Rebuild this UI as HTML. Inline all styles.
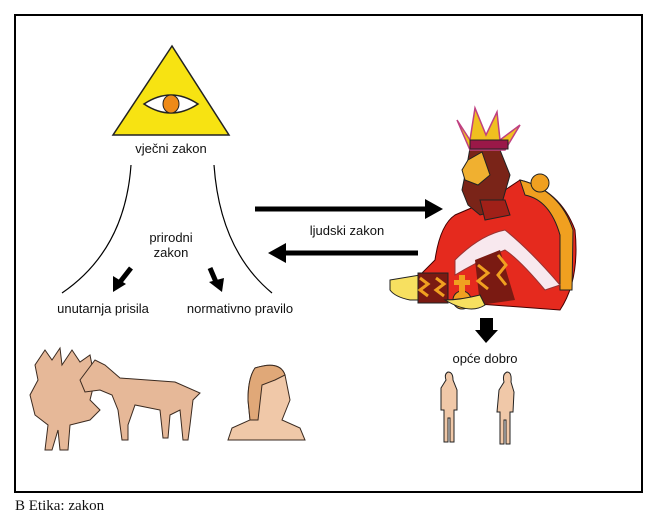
<!DOCTYPE html>
<html><head><meta charset="utf-8"><style>
html,body{margin:0;padding:0;background:#fff;}
svg{display:block}
text{font-family:"Liberation Sans",sans-serif;font-size:13px;fill:#111}
</style></head><body>
<svg width="651" height="519" viewBox="0 0 651 519" xmlns="http://www.w3.org/2000/svg">
<rect x="15" y="15" width="627" height="477" fill="#fff" stroke="#000" stroke-width="2"/>
<!-- triangle -->
<polygon points="172,46 113,135 229,135" fill="#f7e312" stroke="#222" stroke-width="1.5"/>
<path d="M144,104 Q171,86 198,104 Q171,122 144,104Z" fill="#fff" stroke="#222" stroke-width="1.5"/>
<ellipse cx="171" cy="104" rx="8" ry="9" fill="#ee8a18" stroke="#222"/>
<text x="171" y="153" text-anchor="middle">vječni zakon</text>
<path d="M131,165 Q125,250 62,293" fill="none" stroke="#000" stroke-width="1.2"/>
<path d="M214,165 Q220,250 272,293" fill="none" stroke="#000" stroke-width="1.2"/>
<text x="171" y="242" text-anchor="middle">prirodni</text>
<text x="171" y="257" text-anchor="middle">zakon</text>
<!-- small arrows -->
<line x1="131" y1="268" x2="120" y2="282" stroke="#000" stroke-width="5"/>
<polygon points="113,292 113,276 126,284" fill="#000"/>
<line x1="210" y1="268" x2="216" y2="282" stroke="#000" stroke-width="5"/>
<polygon points="222,292 209,282 224,278" fill="#000"/>
<text x="103" y="313" text-anchor="middle" font-size="14">unutarnja prisila</text>
<text x="240" y="313" text-anchor="middle" font-size="14">normativno pravilo</text>
<!-- big arrows -->
<line x1="255" y1="209" x2="428" y2="209" stroke="#000" stroke-width="5"/>
<polygon points="443,209 425,199 425,219" fill="#000"/>
<text x="347" y="235" text-anchor="middle" font-size="14">ljudski zakon</text>
<line x1="282" y1="253" x2="418" y2="253" stroke="#000" stroke-width="5"/>
<polygon points="268,253 286,243 286,263" fill="#000"/>
<!-- king -->
<path d="M455,215 Q440,225 435,260 L420,275 L425,300 L560,310 Q580,280 575,230 Q560,190 520,180 L490,200Z" fill="#e52a1e" stroke="#400" stroke-width="1"/>
<path d="M520,180 Q560,190 573,230 L572,290 L560,290 L560,235 Q550,200 525,195Z" fill="#f0a020" stroke="#222"/>
<circle cx="540" cy="183" r="9" fill="#f0a020" stroke="#222"/>
<path d="M455,260 Q480,235 505,230 Q530,250 560,285 L545,290 Q520,260 505,250 Q480,260 455,275Z" fill="#f8e8ee" stroke="#933"/>
<path d="M475,260 L500,250 L515,300 L480,305Z" fill="#7a1a12"/>
<path d="M478,265 l10,8 -10,8 10,8 M498,255 l8,10 -8,10 8,10" stroke="#f0a020" stroke-width="3" fill="none"/>
<path d="M390,280 L420,275 L445,283 L440,300 L410,300 Q395,297 390,290Z" fill="#f7e060" stroke="#222"/>
<rect x="418" y="273" width="30" height="30" fill="#7a1a12" stroke="#222"/>
<path d="M420,278 l8,6 -8,6 8,6 M436,278 l8,6 -8,6 8,6" stroke="#f0a020" stroke-width="3" fill="none"/>
<circle cx="462" cy="300" r="9" fill="#f0a020" stroke="#222"/>
<rect x="459" y="275" width="6" height="18" fill="#f0a020"/><rect x="454" y="280" width="16" height="5" fill="#f0a020"/>
<path d="M445,300 Q470,315 485,305 L480,295 Q460,300 445,300Z" fill="#f7e060" stroke="#222"/>
<!-- head -->
<path d="M467,165 L470,148 L478,145 L500,150 L510,175 L500,210 L480,215 L468,205 L462,190Z" fill="#7a2418" stroke="#222"/>
<path d="M468,160 L482,152 L490,175 L478,185 L465,180 L462,170Z" fill="#f0b030" stroke="#222"/>
<path d="M480,200 L505,200 L510,215 L485,220Z" fill="#a02018" stroke="#222"/>
<!-- crown -->
<polygon points="457,120 470,140 475,108 486,135 497,112 500,140 520,125 505,150 470,150" fill="#f0c020" stroke="#c04080" stroke-width="1.5"/>
<rect x="470" y="140" width="38" height="9" fill="#9a1848" stroke="#222"/>
<!-- down arrow -->
<rect x="480" y="318" width="13" height="12" fill="#000"/>
<polygon points="475,330 498,330 486,343" fill="#000"/>
<text x="485" y="363" text-anchor="middle" font-size="14">opće dobro</text>
<!-- people -->
<path d="M448,372 q5,0 5,8 l4,10 0,20 -3,0 0,32 -4,0 0,-24 -2,0 0,24 -4,0 0,-32 -3,0 0,-22 5,-8 q-2,-6 2,-8Z" fill="#f0c8a8" stroke="#222"/>
<path d="M507,372 q5,0 4,10 l3,10 -1,20 -3,0 0,32 -4,0 0,-24 -2,0 0,24 -4,0 0,-32 -3,0 2,-22 5,-8 q-2,-8 3,-10Z" fill="#f0c8a8" stroke="#222"/>
<!-- tree -->
<path d="M45,350 L52,360 L60,348 L62,365 L72,350 L80,362 L90,355 L95,380 L90,400 L100,410 L90,420 L70,425 L68,450 L60,450 L58,430 L52,450 L45,450 L48,425 L35,415 L30,395 L38,380 L35,365Z" fill="#e6b898" stroke="#3a2a20"/>
<!-- goat -->
<path d="M80,380 L95,360 L105,365 L120,378 L175,382 L200,393 L193,400 L190,425 L188,440 L183,440 L180,410 L170,415 L168,438 L163,438 L160,410 L135,405 L128,425 L128,440 L122,440 L118,410 L112,395 L100,390 L85,392Z" fill="#e6b898" stroke="#3a2a20"/>
<!-- woman -->
<path d="M255,368 Q280,360 285,375 L290,400 L282,420 L300,428 L305,440 L228,440 L232,428 L250,420 L248,400 Q248,378 255,368Z" fill="#f0c8a8" stroke="#3a2a20"/>
<path d="M255,368 Q280,360 285,375 L275,380 L262,385 L258,420 L250,420 L248,400 Q248,378 255,368Z" fill="#e0a878" stroke="#3a2a20"/>
<text x="15" y="510" style="font-family:'Liberation Serif',serif;font-size:15px">B Etika: zakon</text>
</svg>
</body></html>
